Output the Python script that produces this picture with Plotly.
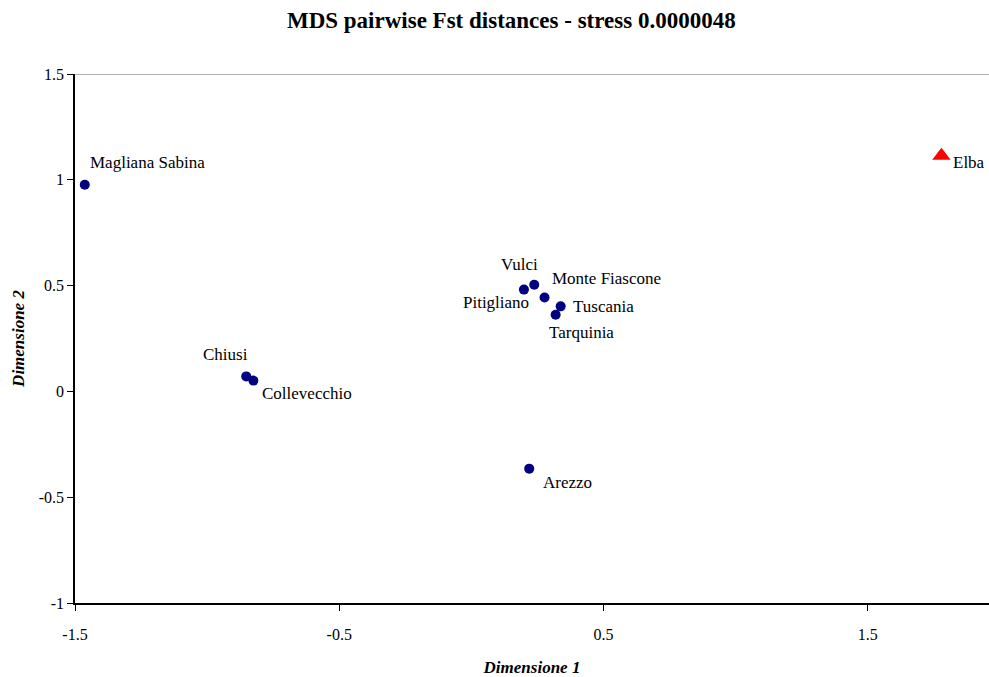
import plotly.graph_objects as go

# Data
populations = ["Magliana Sabina", "Chiusi", "Collevecchio", "Vulci", "Pitigliano",
               "Monte Fiascone", "Tuscania", "Tarquinia", "Arezzo"]
dim1 = [-1.463, -0.852, -0.825, 0.238, 0.199, 0.277, 0.338, 0.319, 0.219]
dim2 = [0.977, 0.071, 0.051, 0.504, 0.481, 0.444, 0.402, 0.362, -0.365]

elba_name = ["Elba"]
elba_dim1 = [1.779]
elba_dim2 = [1.114]

x_tickvals = [-1.5, -0.5, 0.5, 1.5]
x_ticktext = ["-1.5", "-0.5", "0.5", "1.5"]
y_tickvals = [-1, -0.5, 0, 0.5, 1, 1.5]
y_ticktext = ["-1", "-0.5", "0", "0.5", "1", "1.5"]

# label placement (anchor, xshift, yshift) in pixels
label_style = {
    "Magliana Sabina": ("left", 3, 22),
    "Chiusi": ("right", 4, 22),
    "Collevecchio": ("left", 7, -13),
    "Vulci": ("right", 6, 20),
    "Pitigliano": ("right", 7, -13),
    "Monte Fiascone": ("left", 5, 19),
    "Tuscania": ("left", 10, 0),
    "Tarquinia": ("left", -9, -18),
    "Arezzo": ("left", 12, -14),
    "Elba": ("left", 10, -7),
}

FONT = "Liberation Serif"

fig = go.Figure()
fig.add_trace(go.Scatter(
    x=dim1, y=dim2, mode="markers",
    marker=dict(symbol="circle", size=10, color="#000080"),
    hoverinfo="text", text=populations, showlegend=False,
))
fig.add_trace(go.Scatter(
    x=elba_dim1, y=elba_dim2, mode="markers",
    marker=dict(symbol="triangle-up", size=16, color="#ff0000"),
    hoverinfo="text", text=elba_name, showlegend=False,
))

annotations = []
for name, xv, yv in list(zip(populations, dim1, dim2)) + list(zip(elba_name, elba_dim1, elba_dim2)):
    anchor, xs, ys = label_style[name]
    annotations.append(dict(
        x=xv, y=yv, xref="x", yref="y", text=name, showarrow=False,
        xanchor=anchor, yanchor="middle", xshift=xs, yshift=ys,
        font=dict(family=FONT, size=17, color="#000000"),
    ))

fig.update_layout(
    width=989, height=677,
    margin=dict(l=75, r=0, t=74, b=74),
    paper_bgcolor="white", plot_bgcolor="white",
    font=dict(family=FONT, size=16, color="#000000"),
    title=dict(text="<b>MDS pairwise Fst distances - stress 0.0000048</b>",
               x=0.517, xanchor="center", y=0.97, yanchor="middle",
               font=dict(family=FONT, size=23, color="#000000")),
    xaxis=dict(
        range=[-1.5, 1.959], tickmode="array", tickvals=x_tickvals, ticktext=x_ticktext,
        showgrid=False, zeroline=False,
        showline=True, linecolor="#000000", linewidth=1.5,
        ticks="outside", ticklen=6, tickcolor="#000000",
        tickfont=dict(family=FONT, size=16), ticklabelstandoff=10,
        title=dict(text="<b><i>Dimensione 1</i></b>", font=dict(family=FONT, size=17), standoff=20),
    ),
    yaxis=dict(
        range=[-1, 1.5], tickmode="array", tickvals=y_tickvals, ticktext=y_ticktext,
        showgrid=False, zeroline=False,
        showline=True, linecolor="#000000", linewidth=1.5,
        ticks="outside", ticklen=6, tickcolor="#000000",
        tickfont=dict(family=FONT, size=16),
        title=dict(text="<b><i>Dimensione 2</i></b>", font=dict(family=FONT, size=17), standoff=10),
    ),
    annotations=annotations,
    shapes=[dict(type="line", xref="paper", yref="y", x0=0, x1=1, y0=1.5, y1=1.5,
                 line=dict(color="#999999", width=1.5))],
)

fig.write_html("out.html")
